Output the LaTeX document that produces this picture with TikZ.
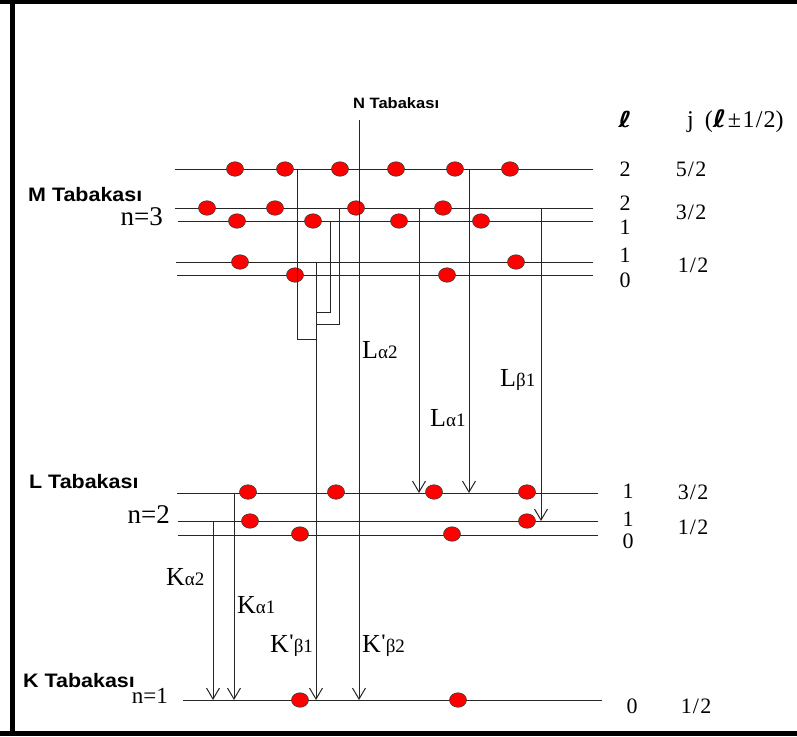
\documentclass[tikz,border=0pt]{standalone}
\usepackage{fontspec}
\setmainfont{Liberation Serif}
\newfontfamily\shellfont[FakeStretch=1.1]{Liberation Sans}
\newfontfamily\plainserif{Liberation Serif}
\newfontfamily\ellfont{DejaVu Sans}
\usetikzlibrary{arrows.meta,shapes.geometric}

% transition label: main letter with a lowered subscript
\newcommand\sublab[2]{#1{\fontsize{19}{19}\selectfont#2}}
% transition label with a prime before the subscript
\newcommand\primelab[2]{#1\raisebox{5pt}{\plainserif\bfseries\fontsize{19}{19}\selectfont '}\kern-0.5pt{\fontsize{19}{19}\selectfont#2}}
% fraction as typed in the level table
\newcommand\frc[2]{#1\kern1.2pt/\kern1.2pt#2}
% bold script l of the table header
\newcommand\ellsym[1]{\scalebox{#1}[1]{\ellfont\bfseries ℓ}}

\begin{document}
\begin{tikzpicture}[x=1pt,y=-1pt,
  level/.style={line width=1pt, draw=black!85},
  trans/.style={line width=1pt, draw=black!85},
  emit/.style={trans, -{Straight Barb[length=11pt,width=13pt]}},
  electron/.style={ellipse, fill=red, draw=black!75, line width=0.6pt,
    minimum width=17pt, minimum height=14.5pt, inner sep=0pt},
  shell/.style={font=\shellfont\bfseries\fontsize{19.5}{20}\selectfont,
    inner sep=0pt, anchor=base west},
  num/.style={font=\fontsize{22}{22}\selectfont, inner sep=0pt},
  nlab/.style={font=\fontsize{27}{27}\selectfont, inner sep=0pt, anchor=base east},
  tlab/.style={font=\fontsize{26}{26}\selectfont, inner sep=0pt, anchor=base west},
]
\useasboundingbox (0,0) rectangle (797,736);

% frame
\fill (0,0) rectangle (797,4);
\fill (10,0) rectangle (15,736);
\fill (0,731) rectangle (797,736);

% level end points
\coordinate (Md5)  at (175,169); \coordinate (Md5e) at (593,169);
\coordinate (Md3)  at (175,208); \coordinate (Md3e) at (593,208);
\coordinate (Mp3)  at (178,221); \coordinate (Mp3e) at (593,221);
\coordinate (Mp1)  at (176,262); \coordinate (Mp1e) at (593,262);
\coordinate (Ms)   at (177,275); \coordinate (Mse)  at (593,275);
\coordinate (Lp3)  at (177,493); \coordinate (Lp3e) at (598,493);
\coordinate (Lp1)  at (178,521); \coordinate (Lp1e) at (598,521);
\coordinate (Ls)   at (178,535); \coordinate (Lse)  at (598,535);
\coordinate (Ks)   at (183,700); \coordinate (Kse)  at (602,700);

% energy levels
\foreach \a/\b in {Md5/Md5e,Md3/Md3e,Mp3/Mp3e,Mp1/Mp1e,Ms/Mse,
                   Lp3/Lp3e,Lp1/Lp1e,Ls/Lse,Ks/Kse}
  \draw[level] (\a) -- (\b);

% electrons
\foreach \x [count=\i] in {235,285,340,396,455,510}
  \node[electron] (md\i) at (\x,169) {};
\foreach \x [count=\i] in {207,275,356,443}
  \node[electron] (mdd\i) at (\x,208) {};
\foreach \x [count=\i] in {237,313,399,481}
  \node[electron] (mp\i) at (\x,221) {};
\foreach \x [count=\i] in {240,516}
  \node[electron] (mpp\i) at (\x,262) {};
\foreach \x [count=\i] in {295,447}
  \node[electron] (ms\i) at (\x,275) {};
\foreach \x [count=\i] in {248,336,434,527}
  \node[electron] (lp\i) at (\x,492) {};
\foreach \x [count=\i] in {250,527}
  \node[electron] (lpp\i) at (\x,521) {};
\foreach \x [count=\i] in {300,452}
  \node[electron] (ls\i) at (\x,534) {};
\foreach \x [count=\i] in {300,458}
  \node[electron] (ks\i) at (\x,700) {};

% transition start points
\coordinate (la2) at (419,208);
\coordinate (la1) at (469,169);
\coordinate (lb1) at (541,208);
\coordinate (ka2) at (213,521);
\coordinate (ka1) at (234,493);
\coordinate (kb1) at (316,262);
\coordinate (kb2) at (359,120);
\coordinate (kbA) at (297,169);
\coordinate (kbB) at (339,208);
\coordinate (kbC) at (330,221);
\coordinate (jA) at (316,339);
\coordinate (jB) at (316,324);
\coordinate (jC) at (316,312);

% L series
\draw[emit] (la2) -- (la2 |- Lp3);
\draw[emit] (la1) -- (la1 |- Lp3);
\draw[emit] (lb1) -- (lb1 |- Lp1);
% K series
\draw[emit] (ka2) -- (ka2 |- Ks);
\draw[emit] (ka1) -- (ka1 |- Ks);
\draw[emit] (kb1) -- (kb1 |- Ks);
\draw[emit] (kb2) -- (kb2 |- Ks);
\draw[trans] (kbA) |- (jA);
\draw[trans] (kbB) |- (jB);
\draw[trans] (kbC) |- (jC);

% shell names
\node[shell] (mshell) at (28,201) {M Tabakası};
\node[shell] (lshell) at (29,488) {L Tabakası};
\node[shell] (kshell) at (23,687) {K Tabakası};
\node[shell, font=\shellfont\bfseries\fontsize{15}{15}\selectfont] (nshell) at (353,108) {N Tabakası};
\node[nlab] (n3) at (163,225) {n=3};
\node[nlab] (n2) at (170,523) {n=2};
\node[nlab, font=\fontsize{23}{23}\selectfont] (n1) at (168,703) {n=1};

% quantum numbers
\node[num, font=\fontsize{22}{22}\selectfont, anchor=base] (hl) at (625,127) {\ellsym{1.3}};
\node[num, font=\fontsize{24}{24}\selectfont, anchor=base west] (hj) at (687,127)
  {j\hspace{11pt}(\ellsym{1.2}\kern1.5pt±\kern1.5pt\frc{1}{2})};
\node[num] (l1) at (625,169) {2};  \node[num] (j1) at (691,169) {\frc{5}{2}};
\node[num] (l2) at (625,203) {2};
\node[num] (l3) at (625,227) {1};  \node[num] (j2) at (691,212) {\frc{3}{2}};
\node[num] (l4) at (625,255) {1};
\node[num] (l5) at (625,280) {0};  \node[num] (j3) at (693,265) {\frc{1}{2}};
\node[num] (l6) at (628,491) {1};  \node[num] (j4) at (693,492) {\frc{3}{2}};
\node[num] (l7) at (628,519) {1};
\node[num] (l8) at (628,541) {0};  \node[num] (j5) at (693,527) {\frc{1}{2}};
\node[num] (l9) at (632,706) {0};  \node[num] (j6) at (696,706) {\frc{1}{2}};

% transition names
\node[tlab] (tla2) at (362,358) {\sublab{L}{α2}};
\node[tlab] (tla1) at (430,426) {\sublab{L}{α1}};
\node[tlab] (tlb1) at (500,386) {\sublab{L}{β1}};
\node[tlab] (tka2) at (166,585) {\sublab{K}{α2}};
\node[tlab] (tka1) at (237,613) {\sublab{K}{α1}};
\node[tlab] (tkb1) at (270,652) {\primelab{K}{β1}};
\node[tlab] (tkb2) at (362,652) {\primelab{K}{β2}};
\end{tikzpicture}
\end{document}
